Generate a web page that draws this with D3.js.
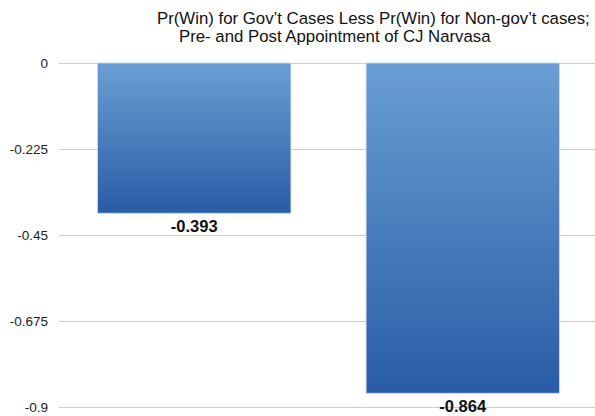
<!DOCTYPE html>
<html>
<head>
<meta charset="utf-8">
<script src="https://cdn.jsdelivr.net/npm/d3@7/dist/d3.min.js"></script>
<style>
  html, body { margin: 0; padding: 0; background: #fff; }
  svg { display: block; font-family: "Liberation Sans", Arial, sans-serif; }
</style>
</head>
<body>
<svg id="chart" width="595" height="416"></svg>
<script>
// Difference in win probability, before and after the appointment
const categories = ["Pre", "Post"];
const values = [-0.393, -0.864];
const tickValues = [0, -0.225, -0.45, -0.675, -0.9];
const tickLabels = ["0", "-0.225", "-0.45", "-0.675", "-0.9"];
const titleLines = [
  "Pr(Win) for Gov\u2019t Cases Less Pr(Win) for Non-gov\u2019t cases;",
  "Pre- and Post Appointment of CJ Narvasa"
];

const svg = d3.select("#chart");

const y = d3.scaleLinear().domain([0, -0.9]).range([63, 407]);
const x = d3.scaleBand().domain(categories).range([60, 597]).paddingInner(0.28).paddingOuter(0.14);

// Vertical gradient for the bars
const defs = svg.append("defs");
const grad = defs.append("linearGradient")
  .attr("id", "barGrad").attr("x1", 0).attr("y1", 0).attr("x2", 0).attr("y2", 1);
grad.append("stop").attr("offset", "0%").attr("stop-color", "#6a9ed3");
grad.append("stop").attr("offset", "100%").attr("stop-color", "#2a5ca6");

// Gridlines + tick labels from a left axis
const axis = d3.axisLeft(y)
  .tickValues(tickValues)
  .tickFormat((d, i) => tickLabels[i])
  .tickSize(-(595 - 59))
  .tickPadding(11);

const gAxis = svg.append("g").attr("transform", "translate(59,0)").call(axis);
gAxis.select(".domain").remove();
gAxis.selectAll(".tick line").attr("stroke", "#cccccc").attr("stroke-width", 1.2);
gAxis.selectAll(".tick text")
  .attr("fill", "#222")
  .style("font-size", "13.5px")
  .style("font-family", "'Liberation Sans', Arial, sans-serif");

// Bars
svg.append("g").selectAll("rect")
  .data(values)
  .join("rect")
  .attr("x", (d, i) => x(categories[i]))
  .attr("y", y(0))
  .attr("width", x.bandwidth())
  .attr("height", d => y(d) - y(0))
  .attr("fill", "url(#barGrad)")
  .attr("stroke", "#c9dbef")
  .attr("stroke-width", 0.8);

// Value labels beneath each bar
svg.append("g").selectAll("text")
  .data(values)
  .join("text")
  .attr("x", (d, i) => x(categories[i]) + x.bandwidth() / 2)
  .attr("y", d => y(d) + 19)
  .attr("text-anchor", "middle")
  .attr("font-weight", "bold")
  .attr("font-size", "16.5px")
  .attr("fill", "#111")
  .text(d => d.toFixed(3));

// Title
const title = svg.append("text").attr("fill", "#111").attr("font-size", "16.8px");
title.append("tspan").attr("x", 157).attr("y", 24).text(titleLines[0]);
title.append("tspan").attr("x", 179).attr("y", 42).text(titleLines[1]);
</script>
</body>
</html>
